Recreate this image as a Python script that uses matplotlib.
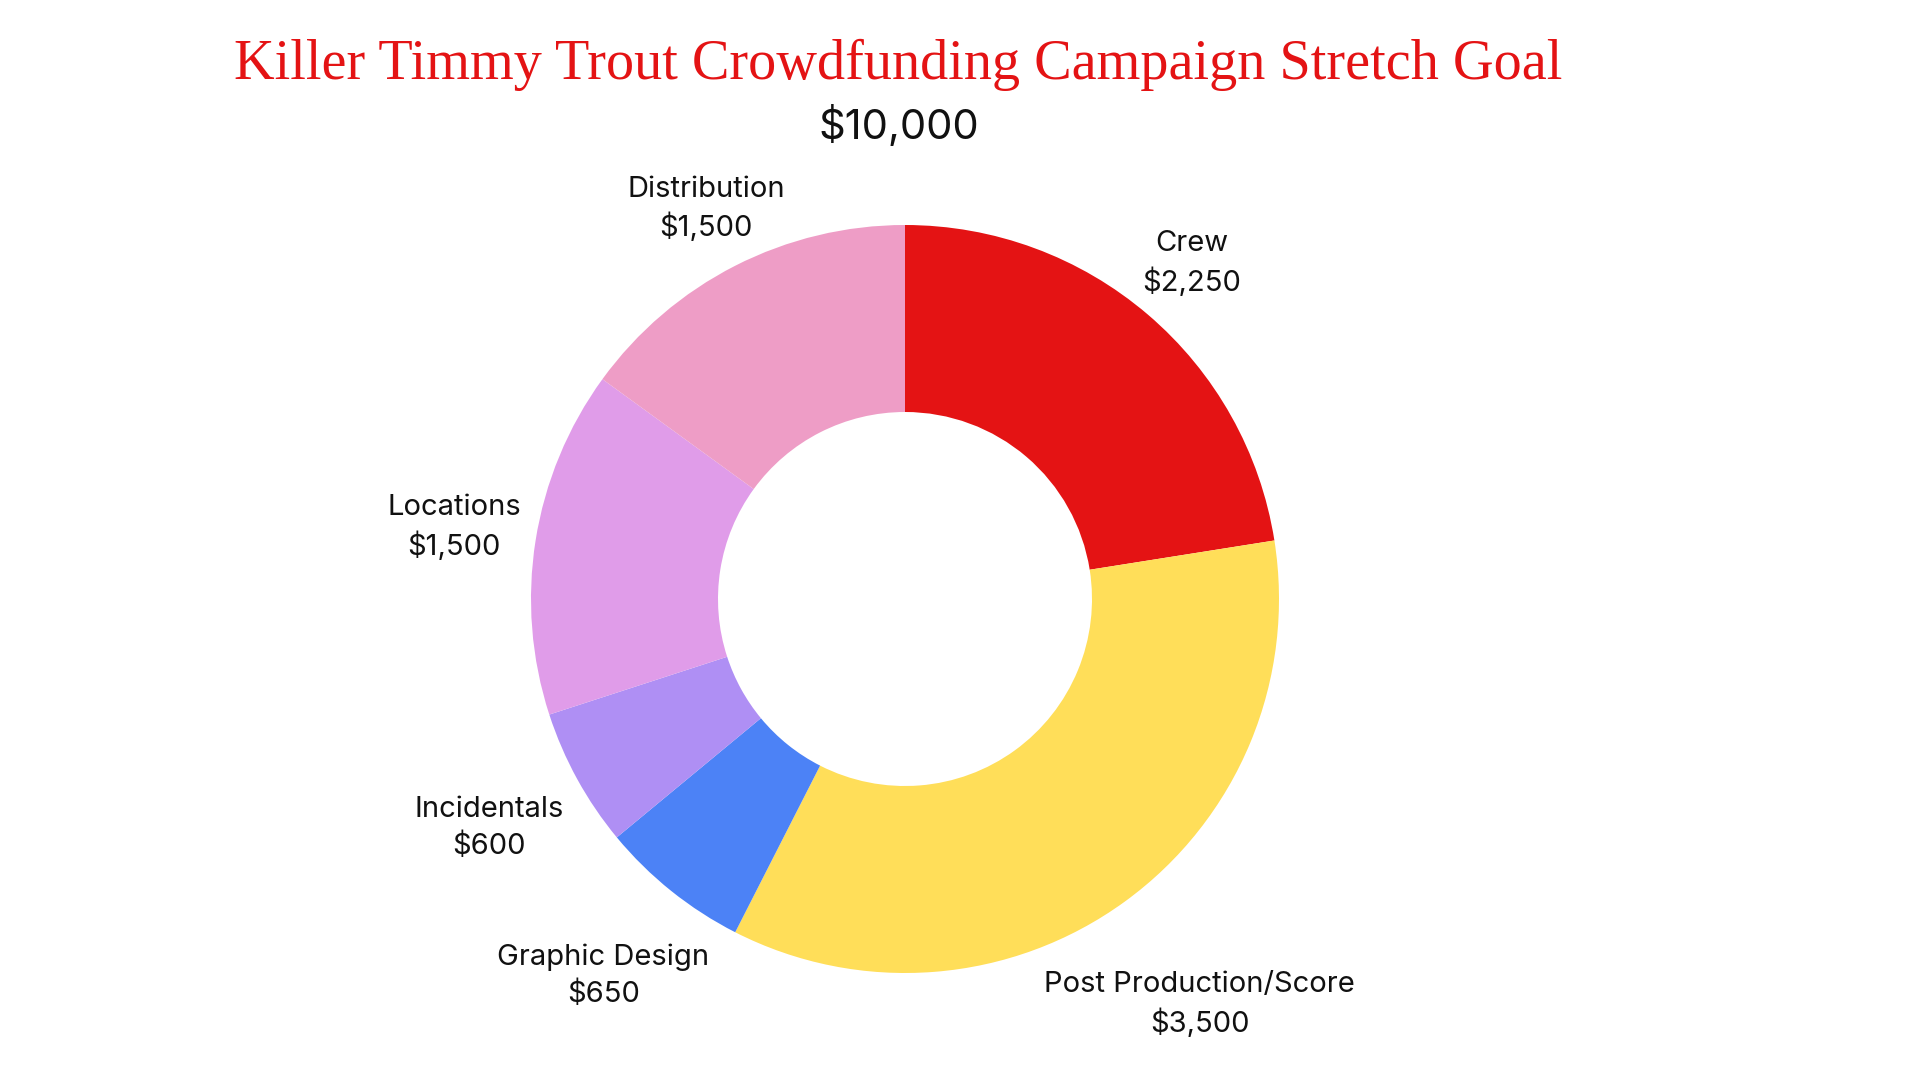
import numpy as np
import matplotlib.pyplot as plt

# budget split of the stretch goal
categories = ['Crew', 'Post Production/Score', 'Graphic Design', 'Incidentals', 'Locations', 'Distribution']
amounts = [2250, 3500, 650, 600, 1500, 1500]
total_label = '$10,000'
title = 'Killer Timmy Trout Crowdfunding Campaign Stretch Goal'

colors = ['#E41314', '#FFDE59', '#4C82F6', '#AF8FF4', '#E09CE9', '#EE9DC6']
label_dist = [1.18, 1.34, 1.29, 1.27, 1.22, 1.17]

W, H = 1920, 1080
cx, cy, R = 905, 599, 374

fig = plt.figure(figsize=(19.2, 10.8), dpi=100)
fig.patch.set_facecolor('white')
ax = fig.add_axes([0, 0, 1, 1])

wedges, _ = ax.pie(amounts, colors=colors, startangle=90, counterclock=False,
                   radius=1, wedgeprops=dict(width=0.5, linewidth=0))

# scale so that one data unit = R pixels, centre at (cx, cy)
ax.set_xlim(-cx / R, (W - cx) / R)
ax.set_ylim(-(H - cy) / R, cy / R)
ax.set_aspect('auto')
ax.axis('off')

for w, name, val, d in zip(wedges, categories, amounts, label_dist):
    ang = np.deg2rad((w.theta1 + w.theta2) / 2)
    ax.text(d * np.cos(ang), d * np.sin(ang), name + '\n' + '${:,}'.format(val),
            ha='center', va='center', fontsize=21, family='Inter',
            color='#111111', linespacing=1.42)

fig.text(0.468, 1 - 65 / H, title, ha='center', va='center',
         fontsize=40.5, family='Liberation Serif', color='#E41314')
fig.text(0.468, 1 - 126 / H, total_label, ha='center', va='center',
         fontsize=30, family='Inter', color='#111111')

fig.savefig('out.png', dpi=100)
